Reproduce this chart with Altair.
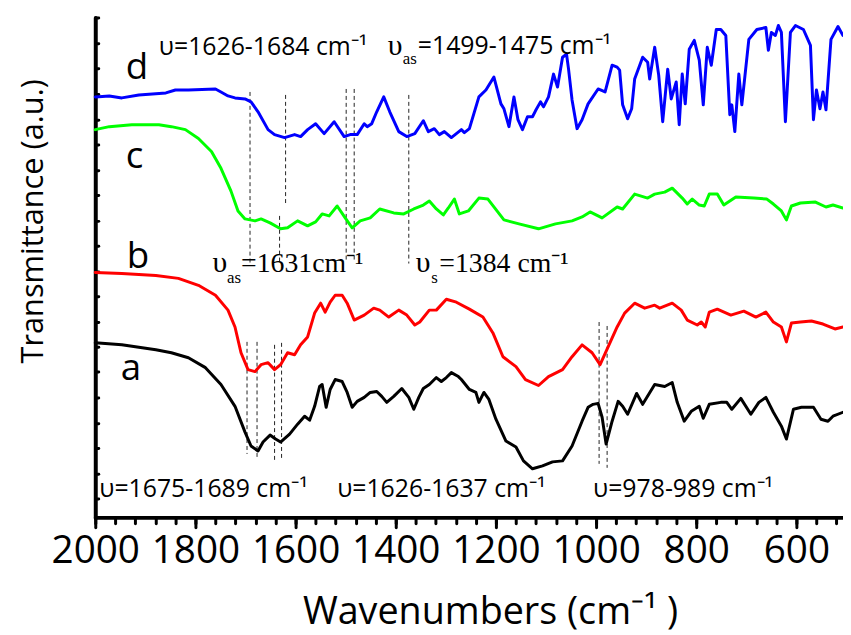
import altair as alt
import pandas as pd

# ---------------- spectra: (wavenumber cm-1, transmittance a.u.) ----------------
SPEC_A = [(2000,157),(1947,155),(1879,150),(1848,147),(1814,142),(1780,132),(1749,115),(1721,93),
          (1701,67),(1689,53),(1675,48),(1665,57),(1651,64),(1640,60),(1630,57),(1612,65),(1596,75),
          (1582,83),(1572,79),(1562,93),(1552,113),(1547,115),(1539,92),(1531,110),(1521,120),(1507,118),
          (1497,107),(1487,92),(1477,98),(1463,102),(1451,107),(1438,108),(1428,103),(1418,97),(1404,103),
          (1388,111),(1374,102),(1364,90),(1354,102),(1345,111),(1333,115),(1319,122),(1309,118),(1299,122),
          (1289,127),(1275,123),(1269,120),(1253,110),(1240,107),(1234,97),(1224,107),(1214,100),(1200,80),
          (1180,58),(1160,52),(1145,38),(1127,30),(1107,33),(1087,37),(1067,38),(1048,53),(1028,78),
          (1016,92),(1006,95),(996,96),(988,82),(980,55),(968,78),(956,98),(947,93),(937,85),(919,106),
          (907,95),(883,115),(863,113),(848,117),(838,97),(824,78),(810,88),(794,93),(786,81),(774,95),
          (751,97),(739,97),(729,90),(711,101),(691,85),(675,97),(661,102),(646,87),(630,73),(620,60),
          (606,90),(590,92),(566,92),(551,80),(537,78),(527,83),(507,87)]

SPEC_B = [(2000,228),(1947,227),(1879,225),(1834,222),(1794,215),(1760,205),(1735,190),(1721,173),
          (1709,147),(1695,130),(1681,128),(1669,135),(1655,137),(1642,130),(1630,135),(1616,147),
          (1602,145),(1590,155),(1576,163),(1562,187),(1550,197),(1541,188),(1531,198),(1521,205),
          (1507,205),(1497,197),(1483,180),(1463,185),(1444,192),(1432,190),(1414,183),(1394,190),
          (1378,185),(1362,175),(1352,178),(1333,190),(1319,190),(1299,201),(1279,198),(1253,191),
          (1226,183),(1206,167),(1186,143),(1160,133),(1141,120),(1115,114),(1095,123),(1067,130),
          (1048,143),(1028,155),(1008,147),(992,135),(976,153),(958,173),(943,187),(923,197),(903,192),
          (883,195),(873,192),(848,197),(830,190),(818,180),(798,175),(790,178),(782,173),(774,188),
          (758,191),(731,185),(705,189),(681,183),(661,188),(646,178),(630,173),(620,158),(610,177),
          (592,178),(570,179),(547,176),(523,171),(507,173)]

SPEC_C = [(2000,372),(1972,375),(1927,377),(1873,377),(1848,375),(1820,372),(1794,363),(1768,350),
          (1749,333),(1729,310),(1715,290),(1701,282),(1681,280),(1669,282),(1651,278),(1630,272),
          (1616,273),(1596,280),(1576,275),(1560,279),(1547,287),(1533,285),(1517,295),(1501,283),
          (1487,273),(1471,280),(1451,283),(1432,292),(1404,288),(1384,287),(1364,292),(1345,296),
          (1333,300),(1319,292),(1305,286),(1295,293),(1283,302),(1273,287),(1255,290),(1234,303),
          (1216,302),(1184,281),(1154,277),(1115,272),(1081,277),(1048,280),(1028,284),(1012,289),
          (988,283),(958,294),(947,292),(923,307),(897,303),(883,307),(863,309),(848,313),(828,303),
          (818,297),(808,302),(794,296),(784,295),(774,307),(758,307),(745,296),(721,304),(685,303),
          (659,302),(646,297),(630,290),(620,281),(610,295),(592,298),(562,299),(541,294),(527,296),
          (507,293)]

SPEC_D = [(2000,405),(1972,406),(1947,404),(1913,407),(1859,409),(1840,412),(1814,412),(1760,413),
          (1749,410),(1735,406),(1721,404),(1701,403),(1689,400),(1675,390),(1655,372),(1642,367),
          (1622,364),(1602,367),(1590,365),(1576,372),(1560,378),(1543,368),(1523,380),(1503,365),
          (1491,367),(1477,367),(1463,378),(1457,375),(1448,378),(1438,390),(1424,405),(1412,390),
          (1394,370),(1378,365),(1362,368),(1345,381),(1335,370),(1323,373),(1313,367),(1303,370),
          (1289,364),(1269,372),(1263,369),(1253,373),(1234,405),(1220,412),(1204,425),(1190,398),
          (1184,393),(1174,375),(1164,405),(1156,382),(1147,372),(1137,385),(1127,385),(1121,391),
          (1111,400),(1105,395),(1095,405),(1085,428),(1077,415),(1067,445),(1059,448),(1055,433),
          (1048,402),(1038,373),(1028,382),(1016,398),(996,413),(982,410),(968,437),(958,435),
          (953,432),(947,397),(937,383),(929,393),(923,423),(907,445),(897,440),(893,423),(883,455),
          (875,427),(867,380),(857,433),(850,403),(840,420),(834,377),(828,428),(822,398),(814,453),
          (804,462),(794,442),(786,397),(778,455),(770,437),(760,473),(751,473),(741,467),(733,387),
          (729,397),(723,370),(715,428),(709,397),(695,463),(679,473),(661,475),(656,452),(650,470),
          (642,467),(636,477),(630,470),(622,380),(612,470),(602,477),(586,473),(572,457),(566,382),
          (560,412),(553,393),(547,410),(541,392),(531,463),(517,476),(507,467)]

SAMPLES = ["a", "b", "c", "d"]
COLORS = ["#000000", "#ff0000", "#00ff00", "#0000ff"]

# dashed marker lines: (wavenumber, upper end, lower end)
MARKERS = [(1691, 410, 238), (1620, 407, 298), (1632, 285, 238), (1499, 413, 238),
           (1483, 413, 238), (1374, 407, 237), (1697, 158, 45), (1677, 158, 42),
           (1642, 155, 39), (1628, 157, 39), (994, 178, 35), (978, 174, 31)]

X_MAJOR = [2000, 1800, 1600, 1400, 1200, 1000, 800, 600]
X_MINOR = list(range(2000, 505, -40))
Y_TICKS = [round(i * 25.5, 1) for i in range(20)]

LETTERS = [("d", 1939, 423), ("c", 1939, 333), ("b", 1937, 232), ("a", 1949, 120)]
SANS_NOTES = [("υ=1626-1684 cm⁻¹", 1873, 447), ("=1499-1475 cm⁻¹", 1356, 448),
              ("υ=1675-1689 cm⁻¹", 1992, 2), ("υ=1626-1637 cm⁻¹", 1517, 2),
              ("υ=978-989 cm⁻¹", 1006, 2)]
SERIF_NOTES = [("υ", 1416, 447, 30), ("as", 1386, 438, 17),
               ("υ", 1766, 228, 30), ("as", 1737, 217, 17), ("=1631cm⁻¹", 1709, 228, 28),
               ("υ", 1360, 228, 30), ("s", 1329, 217, 17), ("=1384 cm⁻¹", 1313, 228, 28)]

# ---------------- tables ----------------
rows = []
for name, spec in zip(SAMPLES, [SPEC_A, SPEC_B, SPEC_C, SPEC_D]):
    for i, (w, t) in enumerate(spec):
        rows.append({"sample": name, "wn": w, "t": t, "idx": i})
curves_df = pd.DataFrame(rows)
marker_df = pd.DataFrame(MARKERS, columns=["wn", "top", "bottom"])
letters_df = pd.DataFrame(LETTERS, columns=["label", "wn", "t"])
sans_df = pd.DataFrame(SANS_NOTES, columns=["label", "wn", "t"])
serif_df = pd.DataFrame(SERIF_NOTES, columns=["label", "wn", "t", "size"])

W, H = 754, 504
FONT = "Open Sans"
xs = alt.Scale(domain=[507, 2000], reverse=True, nice=False, zero=False)
ys = alt.Scale(domain=[-19, 485], nice=False, zero=False)

x_axis_major = alt.Axis(
    orient="bottom", values=X_MAJOR, format="d",
    grid=False, domainWidth=4, domainColor="black", domainCap="round",
    tickColor="black", tickWidth=3, tickCap="round", tickSize=10,
    labelFont=FONT, labelFontSize=39, labelColor="black", labelPadding=4,
    labelFlush=False, labelOverlap=False,
    title="Wavenumbers (cm⁻¹ )", titleFont=FONT, titleFontSize=38,
    titleFontWeight="normal", titleColor="black",
    titleX=398, titleY=107, titleAlign="center", titleBaseline="alphabetic",
)
x_axis_minor = alt.Axis(
    orient="bottom", values=X_MINOR, labels=False, domain=False, grid=False, title="",
    tickColor="black", tickWidth=3, tickCap="round", tickSize=6,
)
y_axis_left = alt.Axis(
    orient="left", labels=False, ticks=False, grid=False,
    domainWidth=4, domainColor="black", domainCap="round",
    title="Transmittance (a.u.)", titleFont=FONT, titleFontSize=31,
    titleFontWeight="normal", titleColor="black",
    titleX=-62, titleY=205, titleAngle=270, titleAlign="center", titleBaseline="middle",
)
y_axis_ticks = alt.Axis(
    orient="right", offset=-W, labels=False, domain=False, grid=False, title="",
    values=Y_TICKS, tickSize=3, tickWidth=3, tickCap="round", tickColor="black",
)

curves = alt.Chart(curves_df).mark_line(strokeWidth=3, strokeJoin="round", strokeCap="round").encode(
    x=alt.X("wn:Q", scale=xs, axis=x_axis_major),
    y=alt.Y("t:Q", scale=ys, axis=y_axis_left),
    color=alt.Color("sample:N", scale=alt.Scale(domain=SAMPLES, range=COLORS), legend=None),
    order=alt.Order("idx:Q"),
)

rules = alt.Chart(marker_df).mark_rule(strokeDash=[4, 3], strokeWidth=1, color="#222222").encode(
    x=alt.X("wn:Q", scale=xs, axis=x_axis_minor),
    y=alt.Y("top:Q", scale=ys, axis=y_axis_ticks),
    y2="bottom:Q",
)

letters = alt.Chart(letters_df).mark_text(
    align="left", baseline="alphabetic", font=FONT, fontSize=37, color="black"
).encode(x=alt.X("wn:Q", scale=xs, axis=None), y=alt.Y("t:Q", scale=ys, axis=None), text="label:N")

sans = alt.Chart(sans_df).mark_text(
    align="left", baseline="alphabetic", font=FONT, fontSize=25, color="black"
).encode(x=alt.X("wn:Q", scale=xs, axis=None), y=alt.Y("t:Q", scale=ys, axis=None), text="label:N")

serif = alt.Chart(serif_df).mark_text(
    align="left", baseline="alphabetic", font="Liberation Serif", color="black"
).encode(
    x=alt.X("wn:Q", scale=xs, axis=None), y=alt.Y("t:Q", scale=ys, axis=None), text="label:N",
    size=alt.Size("size:Q", scale=None, legend=None),
)

chart = alt.layer(rules, curves, letters, sans, serif).resolve_axis(
    x="independent", y="independent"
).properties(
    width=W, height=H,
    autosize=alt.AutoSizeParams(type="none"),
    padding={"left": 88, "top": 7, "right": 0, "bottom": 124},
    background="white",
).configure_view(stroke="transparent")

chart.save("out.html", embed_options={"renderer": "svg", "actions": False})
